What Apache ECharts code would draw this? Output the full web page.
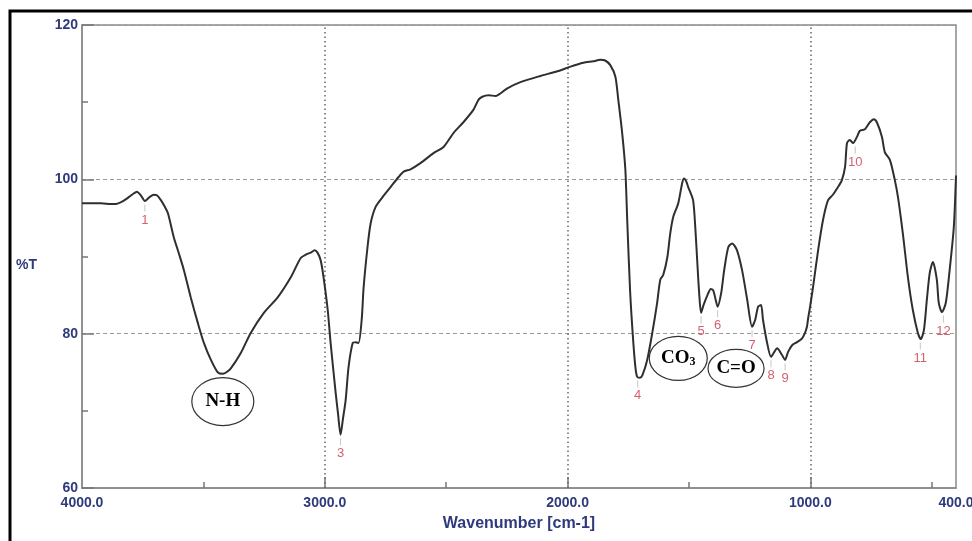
<!DOCTYPE html>
<html>
<head>
<meta charset="utf-8">
<script src="https://cdn.jsdelivr.net/npm/echarts@6/dist/echarts.min.js"></script>
<style>
  html, body { margin: 0; padding: 0; background: #fff; }
  #chart { width: 972px; height: 541px; }
</style>
</head>
<body>
<div id="chart"></div>
<script>
// FTIR transmittance spectrum: wavenumber (cm-1) and %T
const wavenumber = [
  4000, 3960, 3922, 3880, 3860, 3835, 3811, 3790, 3774, 3757, 3741, 3722, 3704, 3690, 3675, 3660,
  3646, 3622, 3600, 3580, 3552, 3523, 3498, 3469, 3441, 3420, 3405, 3387, 3346, 3305, 3251, 3194,
  3140, 3099, 3075, 3058, 3042, 3030, 3017, 3005, 2988, 2976, 2955, 2945, 2935, 2925, 2914, 2902,
  2885, 2873, 2861, 2848, 2840, 2824, 2811, 2791, 2762, 2729, 2696, 2675, 2647, 2606, 2552, 2511,
  2470, 2429, 2388, 2367, 2351, 2326, 2297, 2248, 2194, 2112, 2042, 1988, 1935, 1894, 1865, 1845,
  1824, 1803, 1791, 1775, 1762, 1754, 1742, 1729, 1720, 1713, 1702, 1692, 1672, 1651, 1631, 1618,
  1606, 1589, 1577, 1565, 1544, 1528, 1520, 1512, 1503, 1483, 1474, 1466, 1458, 1450, 1440, 1425,
  1410, 1400, 1390, 1382, 1367, 1355, 1338, 1322, 1302, 1281, 1260, 1240, 1227, 1215, 1203, 1195,
  1178, 1162, 1149, 1137, 1116, 1104, 1092, 1075, 1055, 1034, 1022, 1014, 1009, 1001, 989, 968,
  948, 927, 907, 886, 870, 857, 849, 837, 824, 808, 796, 775, 755, 738, 726, 705,
  693, 672, 652, 639, 619, 598, 578, 557, 545, 532, 520, 508, 495, 479, 471, 458,
  442, 425, 409, 400
];
const transmittance = [
  96.9, 96.9, 96.9, 96.8, 96.8, 97.1, 97.6, 98.1, 98.4, 97.9, 97.2, 97.7, 98.0, 97.9, 97.3, 96.5,
  95.6, 92.5, 90.3, 88.2, 84.7, 81.4, 78.8, 76.6, 75.0, 74.8, 75.0, 75.5, 77.5, 80.1, 82.7, 84.7,
  87.3, 89.8, 90.3, 90.5, 90.8, 90.5, 89.5, 87.3, 83.1, 78.8, 72.3, 69.5, 66.9, 69.0, 71.4, 75.7,
  78.8, 78.9, 78.8, 81.8, 86.0, 91.2, 94.3, 96.4, 97.7, 99.0, 100.3, 101.0, 101.3, 102.1, 103.4, 104.2,
  106.0, 107.4, 109.0, 110.3, 110.7, 110.9, 110.8, 111.8, 112.6, 113.4, 114.0, 114.6, 115.1, 115.3, 115.5, 115.4,
  114.8, 113.3, 110.3, 106.0, 101.3, 94.5, 85.3, 78.8, 75.5, 74.4, 74.3, 74.6, 76.6, 80.1, 84.0, 87.0,
  87.6, 89.9, 93.0, 95.1, 96.9, 99.5, 100.1, 99.8, 99.0, 97.3, 93.8, 89.5, 85.3, 82.7, 83.7, 84.9,
  85.8, 85.6, 84.4, 83.5, 85.3, 88.2, 91.2, 91.7, 90.8, 88.2, 84.4, 80.9, 81.8, 83.5, 83.7, 81.8,
  78.8, 77.0, 77.6, 78.1, 77.2, 76.6, 77.6, 78.5, 78.9, 79.4, 80.1, 80.9, 82.0, 83.5, 86.0, 90.8,
  94.7, 97.3, 98.0, 99.0, 99.9, 101.6, 104.7, 105.1, 104.7, 105.5, 106.3, 106.5, 107.4, 107.8, 107.4, 105.5,
  103.5, 102.5, 99.9, 97.7, 93.0, 87.3, 83.1, 80.1, 79.3, 80.5, 84.4, 87.9, 89.3, 87.0, 84.0, 82.8,
  84.0, 88.6, 93.8, 100.5
];

// Numbered absorption peaks
const peakNumbers = ['1', '3', '4', '5', '6', '7', '8', '9', '10', '11', '12'];
const peakWavenumber = [3741, 2935, 1711, 1450, 1382, 1240, 1162, 1104, 815, 547, 452];
const peakTransmittance = [97.2, 66.9, 74.4, 82.7, 83.5, 80.9, 77.0, 76.6, 104.7, 79.3, 82.8];

// Band assignments (circled), placed in data coordinates
const bandNames = ['N-H', 'CO3', 'C=O'];
const bandWavenumber = [3420, 1544, 1306];
const bandTransmittance = [71.2, 76.8, 75.5];

// Axis ticks and labels
const xLabelValues = [4000, 3000, 2000, 1000, 400];
const xMajorTicks = [3000, 2000, 1000];
const xMinorTicks = [3500, 2500, 1500, 500];

const axisBlue = '#2e3a7c';
const labelFont = '"Liberation Sans", Arial, sans-serif';
const serifFont = '"Liberation Serif", "Times New Roman", serif';

const chart = echarts.init(document.getElementById('chart'), null, { renderer: 'canvas' });

const spectrum = wavenumber.map((w, i) => [w, transmittance[i]]);
const peaks = peakWavenumber.map((w, i) => ({ value: [w, peakTransmittance[i]], name: peakNumbers[i] }));

const option = {
  animation: false,
  backgroundColor: '#ffffff',
  grid: {
    left: 82, right: 16, top: 25, bottom: 53,
    outerBoundsMode: 'none',
    show: true, borderColor: '#8a8a8a', borderWidth: 1.5, backgroundColor: 'transparent'
  },
  xAxis: [
    {
      type: 'value', min: 400, max: 4000, inverse: true,
      name: 'Wavenumber [cm-1]', nameLocation: 'middle', nameGap: 28,
      nameTextStyle: { color: axisBlue, fontWeight: 'bold', fontSize: 16, fontFamily: labelFont },
      axisLine: { show: true, lineStyle: { color: '#8a8a8a', width: 1.5 } },
      axisTick: { show: true, inside: true, length: 11, customValues: xMajorTicks, lineStyle: { color: '#777', width: 1.5 } },
      axisLabel: {
        show: true, customValues: xLabelValues, margin: 8, hideOverlap: false,
        color: axisBlue, fontWeight: 'bold', fontSize: 14, fontFamily: labelFont,
        formatter: v => v.toFixed(1)
      },
      splitLine: { show: false }
    },
    {
      type: 'value', min: 400, max: 4000, inverse: true, position: 'bottom',
      axisLine: { show: false },
      axisTick: { show: true, inside: true, length: 6, customValues: xMinorTicks, lineStyle: { color: '#777', width: 1.5 } },
      axisLabel: { show: false },
      splitLine: { show: false }
    }
  ],
  yAxis: {
    type: 'value', min: 60, max: 120, interval: 20,
    axisLine: { show: true, lineStyle: { color: '#8a8a8a', width: 1.5 } },
    axisTick: { show: true, inside: true, length: 12, lineStyle: { color: '#777', width: 1.5 } },
    minorTick: { show: true, splitNumber: 2, length: 6, lineStyle: { color: '#777', width: 1.5 } },
    axisLabel: { color: axisBlue, fontWeight: 'bold', fontSize: 14, fontFamily: labelFont, margin: 4 },
    splitLine: { show: true, lineStyle: { color: '#9a9a9a', type: [4, 3], width: 1 } }
  },
  series: [
    {
      type: 'line',
      data: spectrum,
      smooth: 0.25,
      symbol: 'none',
      lineStyle: { color: '#2f2f2f', width: 2 },
      z: 5,
      markLine: {
        silent: true, symbol: 'none', label: { show: false },
        lineStyle: { color: '#666', type: [1.5, 3], width: 1.5 },
        data: xMajorTicks.map(v => ({ xAxis: v }))
      }
    },
    {
      type: 'scatter',
      data: peaks,
      symbol: 'rect',
      symbolSize: [1, 7],
      symbolOffset: [0, 7],
      itemStyle: { color: '#b8b8b8' },
      z: 4,
      label: {
        show: true, position: 'bottom', distance: 2,
        formatter: p => p.name,
        color: '#c8384c', fontSize: 13, fontFamily: labelFont
      }
    }
  ]
};

chart.setOption(option);

// Circled band assignments and the outer frame
function drawAnnotations() {
  const ellipseSize = { 'N-H': [31, 24], 'CO3': [29, 22], 'C=O': [28, 19] };
  const graphics = [
    {
      type: 'rect', silent: true, z: 100,
      shape: { x: 10, y: 11, width: 1000, height: 600 },
      style: { fill: 'transparent', stroke: '#000', lineWidth: 3 }
    },
    {
      type: 'text', silent: true, z: 100,
      x: 16, y: 258,
      style: { text: '%T', fill: axisBlue, font: 'bold 14px ' + labelFont }
    }
  ];
  bandNames.forEach((name, i) => {
    const p = chart.convertToPixel({ xAxisIndex: 0, yAxisIndex: 0 }, [bandWavenumber[i], bandTransmittance[i]]);
    const [rx, ry] = ellipseSize[name];
    graphics.push({
      type: 'ellipse', silent: true, z: 100,
      shape: { cx: p[0], cy: p[1], rx: rx, ry: ry },
      style: { fill: '#fff', stroke: '#333', lineWidth: 1.2 }
    });
    const textStyle = name === 'CO3'
      ? { text: '{m|CO}{s|3}', rich: { m: { font: 'bold 19px ' + serifFont, fill: '#000' }, s: { font: 'bold 12px ' + serifFont, fill: '#000', padding: [8, 0, 0, 0] } } }
      : { text: name, font: 'bold 19px ' + serifFont, fill: '#000' };
    graphics.push({
      type: 'text', silent: true, z: 101,
      x: p[0], y: p[1],
      style: Object.assign({ align: 'center', verticalAlign: 'middle' }, textStyle)
    });
  });
  chart.setOption({ graphic: graphics });
}
drawAnnotations();
</script>
</body>
</html>
